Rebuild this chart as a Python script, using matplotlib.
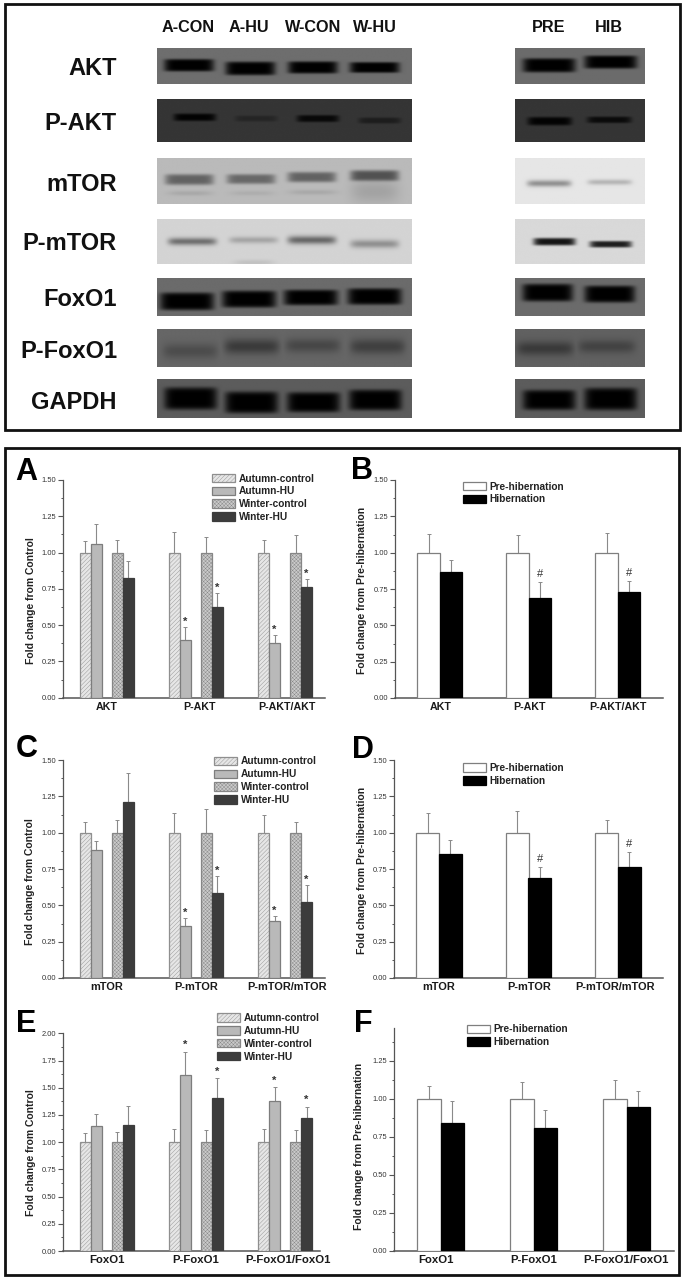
import numpy as np
import matplotlib
matplotlib.use("Agg")
import matplotlib.pyplot as plt
from matplotlib.patches import Rectangle
from matplotlib.ticker import MultipleLocator, FormatStrFormatter
from matplotlib.transforms import ScaledTranslation

plt.rcParams['font.family'] = ['Liberation Sans', 'DejaVu Sans']
plt.rcParams['hatch.linewidth'] = 0.3

W, H = 683, 1282

# ---------- data ----------
lane_names_left = ["A-CON", "A-HU", "W-CON", "W-HU"]
lane_names_right = ["PRE", "HIB"]
series_four = ["Autumn-control", "Autumn-HU", "Winter-control", "Winter-HU"]
series_two = ["Pre-hibernation", "Hibernation"]

cats_a = ["AKT", "P-AKT", "P-AKT/AKT"]
vals_a = [[1, 1, 1], [1.06, .40, .375], [1, 1, 1], [.825, .625, .76]]
tops_a = [[1.08, 1.145, 1.085], [1.20, .485, .435], [1.09, 1.11, 1.12], [.945, .72, .82]]
sig_a = [[0, 0, 0], [0, 1, 1], [0, 0, 0], [0, 1, 1]]

cats_b = cats_a
vals_b = [[1, 1, 1], [.865, .69, .73]]
tops_b = [[1.13, 1.12, 1.135], [.95, .80, .805]]
sig_b = [[0, 0, 0], [0, 1, 1]]

cats_c = ["mTOR", "P-mTOR", "P-mTOR/mTOR"]
vals_c = [[1, 1, 1], [.88, .355, .39], [1, 1, 1], [1.21, .585, .525]]
tops_c = [[1.07, 1.135, 1.125], [.945, .41, .43], [1.09, 1.16, 1.07], [1.41, .70, .64]]
sig_c = sig_a

cats_d = cats_c
vals_d = [[1, 1, 1], [.855, .69, .765]]
tops_d = [[1.135, 1.15, 1.09], [.95, .765, .87]]
sig_d = sig_b

cats_e = ["FoxO1", "P-FoxO1", "P-FoxO1/FoxO1"]
vals_e = [[1, 1, 1], [1.15, 1.615, 1.375], [1, 1, 1], [1.155, 1.405, 1.225]]
tops_e = [[1.08, 1.125, 1.12], [1.255, 1.83, 1.505], [1.09, 1.115, 1.11], [1.335, 1.59, 1.325]]
sig_e = sig_a

cats_f = cats_e
vals_f = [[1, 1, 1], [.84, .805, .945]]
tops_f = [[1.08, 1.11, 1.12], [.985, .925, 1.05]]
sig_f = [[0, 0, 0], [0, 0, 0]]

row_labels = ["AKT", "P-AKT", "mTOR", "P-mTOR", "FoxO1", "P-FoxO1", "GAPDH"]
strength_left = [[1, 1, 1, 1], [.95, .3, .85, .45], [.8, .75, .8, .95],
                 [.75, .35, .8, .5], [1, 1, 1, 1], [.5, .85, .6, .75], [1, 1, 1, 1]]
strength_right = [[1, 1], [.95, .8], [.7, .4], [1, .95], [1, 1], [.85, .65], [1, 1]]

# ---------- canvas ----------
fig = plt.figure(figsize=(W / 100, H / 100), dpi=100, facecolor='white')
bg = fig.add_axes([0, 0, 1, 1], zorder=0)
bg.set_axis_off()
bg.set_xlim(0, W)
bg.set_ylim(H, 0)
px = bg.transData


def add_frame(x0, y0, x1, y1):
    bg.add_patch(Rectangle((x0, y0), x1 - x0, y1 - y0, fill=False, ec='#111111', lw=2.0))


add_frame(5, 4, 680, 430)
add_frame(5, 448, 679, 1275)

# ---------- blots ----------
LEFT = (157, 412)
RIGHT = (515, 644.5)
label_ys = [68.5, 123.5, 184.5, 244, 300, 352, 402.5]
rows = [
    dict(y=(48.5, 84.5), left=dict(back=.43, ink=.0, th=[5.3, 5.8, 5.2, 4.6], hw=23.5, ex=6,
                                   xs=[188.7, 250.3, 313, 375], ys=[65.7, 69, 68, 68]),
         right=dict(back=.42, ink=.0, th=[6, 5.6], hw=25, ex=6, xs=[549, 611], ys=[65.8, 62.5])),
    dict(y=(99.5, 142.5), left=dict(back=.21, ink=.0, th=[3.2, 2.6, 3.0, 2.6], hw=20, ex=4,
                                    xs=[194.5, 256, 318, 380], ys=[117.7, 119, 119, 121]),
         right=dict(back=.21, ink=.0, th=[3.6, 2.8], hw=21, ex=4, xs=[549.5, 609.5], ys=[121.7, 120.3])),
    dict(y=(158.5, 204.5), left=dict(back=.73, ink=.3, th=[4.6, 4.2, 4.4, 4.6], hw=23, ex=4,
                                     xs=[189, 251, 312, 375], ys=[180, 179.5, 177.5, 176]),
         right=dict(back=.90, ink=.42, th=[3.2, 2.6], hw=21, ex=2, xs=[549, 610], ys=[184, 182.7])),
    dict(y=(219, 264), left=dict(back=.83, ink=.3, th=[3.6, 3.2, 4.0, 4.0], hw=23, ex=2,
                                 xs=[192, 253.5, 312, 375], ys=[241.5, 240, 240, 244]),
         right=dict(back=.85, ink=.08, th=[3.2, 2.8], hw=20, ex=4, xs=[554.3, 611], ys=[241.7, 244.3])),
    dict(y=(278.5, 316.5), left=dict(back=.42, ink=.0, th=[7.5, 7.2, 6.6, 7.0], hw=25.5, ex=6,
                                     xs=[186.7, 249, 311, 375], ys=[302, 299.7, 298, 297]),
         right=dict(back=.42, ink=.0, th=[7.5, 7.2], hw=24, ex=6, xs=[547.5, 610], ys=[293, 294.5])),
    dict(y=(329.5, 367.5), left=dict(back=.40, ink=.2, th=[7.5, 7.5, 7, 7.5], hw=26, ex=2,
                                     xs=[190, 251.7, 313, 378], ys=[351.7, 347, 346, 347]),
         right=dict(back=.38, ink=.2, th=[7, 6.5], hw=27, ex=2, xs=[545, 607], ys=[349, 347])),
    dict(y=(380, 418.5), left=dict(back=.36, ink=.0, th=[9.5, 9.2, 8.5, 8.8], hw=25, ex=6,
                                   xs=[190.3, 251.5, 313.7, 375.7], ys=[399.5, 403.5, 403.3, 401]),
         right=dict(back=.36, ink=.0, th=[8.5, 9.5], hw=25, ex=6, xs=[549, 611], ys=[401, 400])),
]
# faint extra structure: (row, cx, cy, half-width, half-height, shift)
faint = [("mTOR", 190, 194, 22, 2.5, -.07), ("mTOR", 252, 194, 22, 2.5, -.05),
         ("mTOR", 313, 193, 24, 2.5, -.07), ("mTOR", 375, 192, 24, 12, -.09),
         ("P-mTOR", 254, 263, 20, 3, -.07)]


def draw_blot(name, span, y, back, ink, th, hw, ex, xs, ys, strength):
    gx = np.arange(span[0], span[1] + 1, 1.0)
    gy = np.arange(y[0], y[1] + 1, 1.0)
    X, Y = np.meshgrid(gx, gy)
    base = np.full_like(X, back, dtype=float)
    if span == LEFT:
        for n, cx, cy, w, h, d in faint:
            if n == name:
                base += d * np.exp(-((X - cx) / w) ** 4) * np.exp(-((Y - cy) / h) ** 2)
    amount = np.zeros_like(X)
    grow = 1.2 if ex >= 4 else 1.05
    for cx, cy, t, s in zip(xs, ys, th, strength):
        bump = np.exp(-((X - cx) / (hw * 1.06)) ** 8) * np.exp(-np.abs((Y - cy) / (t * grow)) ** ex)
        amount = np.maximum(amount, s * bump)
    img = base + (ink - base) * amount
    bg.imshow(img, extent=(span[0], span[1], y[1], y[0]), cmap='gray', vmin=0, vmax=1,
              aspect='auto', interpolation='bilinear', zorder=1)


for i, r in enumerate(rows):
    draw_blot(row_labels[i], LEFT, r['y'], strength=strength_left[i], **r['left'])
    draw_blot(row_labels[i], RIGHT, r['y'], strength=strength_right[i], **r['right'])
    bg.text(117, label_ys[i], row_labels[i], ha='right', va='center', fontsize=17,
            fontweight='bold', color='#111111', zorder=3)

bg.set_xlim(0, W)
bg.set_ylim(H, 0)

for name, x in zip(lane_names_left + lane_names_right, [188.6, 249, 312.7, 374.6, 548.8, 609]):
    bg.text(x, 27.5, name, ha='center', va='center', fontsize=11.7, fontweight='bold', color='#111111')

# ---------- bar panels ----------
FOUR_STYLES = [
    dict(facecolor='#e6e6e6', edgecolor='#8f8f8f', hatch='////////'),
    dict(facecolor='#b9b9b9', edgecolor='#7d7d7d'),
    dict(facecolor='#cacaca', edgecolor='#868686', hatch='xxxxxxxxx'),
    dict(facecolor='#3c3c3c', edgecolor='#3c3c3c'),
]
TWO_STYLES = [
    dict(facecolor='white', edgecolor='#7f7f7f'),
    dict(facecolor='black', edgecolor='black'),
]


def panel(letter, letter_xy, box, ymax, c0, spacing, cats, vals, tops, sig, names, styles,
          offsets, width, ylabel, ylabel_xy, leg_xy, label_dx, label_fs, mark, mark_dy, majors_top):
    left, right, y_top, y_zero = box
    ax = fig.add_axes([left / W, 1 - y_zero / H, (right - left) / W, (y_zero - y_top) / H], zorder=2)
    ax.patch.set_alpha(0)
    ax.set_xlim((left - c0) / spacing, (right - c0) / spacing)
    ax.set_ylim(0, ymax)
    xs = np.arange(len(cats))
    for k, (v, t, s, st) in enumerate(zip(vals, tops, sig, styles)):
        pos = xs + offsets[k] / spacing
        v = np.array(v, dtype=float)
        t = np.array(t, dtype=float)
        ax.bar(pos, v, width / spacing, linewidth=0.9, label=names[k], zorder=3, **st)
        ax.errorbar(pos, v, yerr=[np.zeros_like(v), t - v], fmt='none', ecolor='#8a8a8a',
                    elinewidth=0.8, capsize=1.6, capthick=0.7, zorder=2)
        for p, top, flag in zip(pos, t, s):
            if flag:
                ax.annotate(mark, (p, top), xytext=(0, mark_dy), textcoords='offset points',
                            ha='center', va='baseline', fontsize=8,
                            fontweight='bold' if mark == '*' else 'normal', color='#333333')
    for sp in ('top', 'right'):
        ax.spines[sp].set_visible(False)
    for sp in ('left', 'bottom'):
        ax.spines[sp].set_color('#555555')
    ax.spines['left'].set_linewidth(0.9)
    ax.spines['bottom'].set_linewidth(1.1)
    ax.set_yticks(np.arange(0, majors_top + .01, .25))
    ax.yaxis.set_major_formatter(FormatStrFormatter('%.2f'))
    ax.yaxis.set_minor_locator(MultipleLocator(.125))
    ax.tick_params(axis='y', which='major', length=3.4, width=0.8, color='#555555',
                   labelsize=5.4, labelcolor='#333333', pad=1.5)
    ax.tick_params(axis='y', which='minor', length=1.8, width=0.7, color='#555555')
    ax.set_xticks(xs)
    ax.set_xticklabels(cats, fontsize=label_fs, fontweight='bold', color='#1a1a1a')
    ax.tick_params(axis='x', length=0, pad=3)
    for lab, dx in zip(ax.get_xticklabels(), label_dx):
        lab.set_transform(lab.get_transform() + ScaledTranslation(dx / 100, 0, fig.dpi_scale_trans))
    ax.set_ylabel(ylabel, fontsize=7.5, fontweight='bold', color='#222222', va='center')
    ax.yaxis.set_label_coords(ylabel_xy[0], ylabel_xy[1], transform=px)
    ax.legend(loc='upper left', bbox_to_anchor=leg_xy, bbox_transform=px, frameon=False,
              borderpad=0, borderaxespad=0, prop=dict(size=7.3, weight='bold'),
              handlelength=2.25, handleheight=0.92, handletextpad=0.4, labelspacing=0.28,
              labelcolor='#222222')
    bg.text(letter_xy[0], letter_xy[1], letter, fontsize=22, fontweight='bold', color='black',
            ha='left', va='baseline', zorder=3)
    return ax


off4 = [-21.5, -10.5, 10.5, 21.5]
panel('A', (15.5, 480), (63, 325, 480, 697.7), 1.5, 106.7, 89.2, cats_a, vals_a, tops_a, sig_a,
      series_four, FOUR_STYLES, off4, 11, "Fold change from Control", (31, 601), (211.7, 473.5),
      [0, 4, 2], 7.7, '*', 1.5, 1.5)
off2 = [-11.2, 11.2]
panel('B', (351, 479), (395, 662.7, 480, 698), 1.5, 439.7, 89, cats_b, vals_b, tops_b, sig_b,
      series_two, TWO_STYLES, off2, 22.4, "Fold change from Pre-hibernation", (362, 590), (462.7, 481.5),
      [1, 1, 0], 7.7, '#', 3.5, 1.5)
panel('C', (15.5, 757), (63, 325, 760, 978), 1.5, 106.7, 89.2, cats_c, vals_c, tops_c, sig_c,
      series_four, FOUR_STYLES, off4, 11, "Fold change from Control", (30, 882), (214.3, 756.5),
      [0, 0, 2], 7.9, '*', 1.5, 1.5)
panel('D', (352, 757.5), (394.3, 662.7, 760, 978), 1.5, 439, 89.5, cats_d, vals_d, tops_d, sig_d,
      series_two, TWO_STYLES, off2, 22.7, "Fold change from Pre-hibernation", (362, 870), (462.7, 763),
      [0, 1, -3], 7.9, '#', 3.5, 1.5)
panel('E', (16.5, 1031.7), (63, 320, 1033.3, 1251), 2.0, 106.7, 89.2, cats_e, vals_e, tops_e, sig_e,
      series_four, FOUR_STYLES, off4, 11, "Fold change from Control", (31, 1152.5), (216.7, 1013),
      [0, 0, 3], 8.2, '*', 2.5, 2.0)
panel('F', (354.5, 1031.7), (394, 674.3, 1028.3, 1250.7), 1.462, 440.7, 93, cats_f, vals_f, tops_f, sig_f,
      series_two, TWO_STYLES, [-11.7, 11.7], 23.3, "Fold change from Pre-hibernation", (359, 1146), (466.7, 1024.3),
      [-5, 0, -1], 8.2, '#', 3.5, 1.25)

fig.savefig('out.png', dpi=100, facecolor='white')
